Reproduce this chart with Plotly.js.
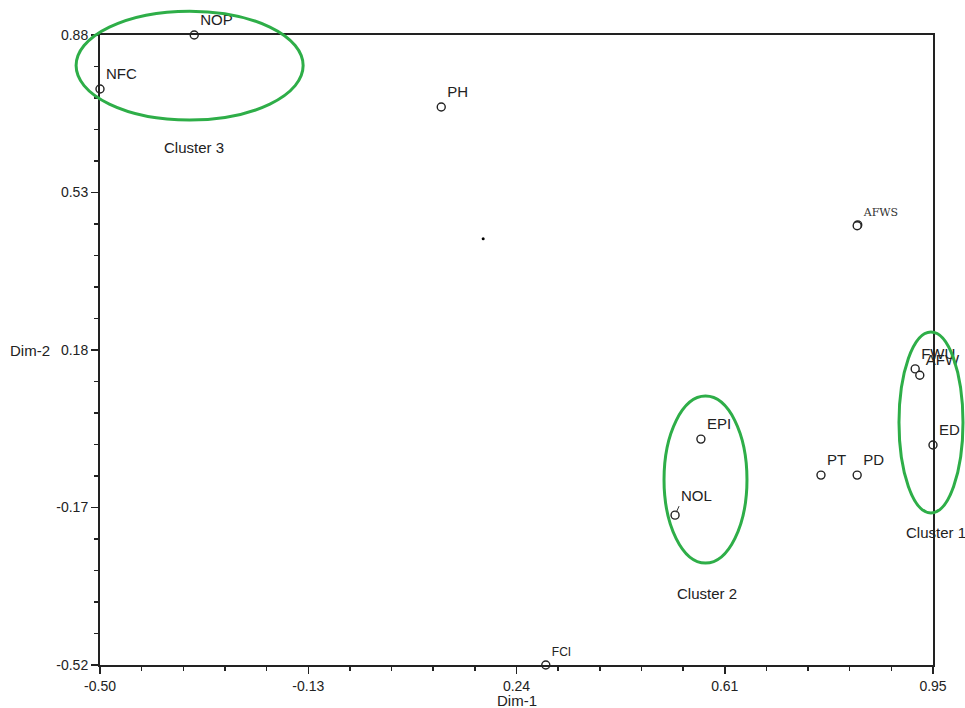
<!DOCTYPE html>
<html>
<head>
<meta charset="utf-8">
<script src="https://cdn.plot.ly/plotly-3.0.1.min.js"></script>
<style>html,body{margin:0;padding:0;background:#fff;}#chart{width:965px;height:708px;}</style>
</head>
<body>
<div id="chart"></div>
<script>
// Variables (labels) and their coordinates on the two dimensions
var labels = ["NOP", "NFC", "PH", "FWU", "AFW", "ED", "PT", "PD", "EPI", "NOL", "FCI"];
var dim1 = [-0.336, -0.500, 0.094, 0.919, 0.927, 0.950, 0.755, 0.818, 0.546, 0.501, 0.276];
var dim2 = [0.880, 0.760, 0.720, 0.138, 0.124, -0.031, -0.098, -0.098, -0.018, -0.187, -0.520];

// Overlapping label group in the upper right
var overlapLabel = ["AFWS"];
var overlapDim1 = [0.819, 0.818];
var overlapDim2 = [0.458, 0.456];

// Small centroid dot
var centroidDim1 = [0.167];
var centroidDim2 = [0.427];

// Tick labels
var xTickText = ["-0.50", "-0.13", "0.24", "0.61", "0.95"];
var yTickText = ["-0.52", "-0.17", "0.18", "0.53", "0.88"];

// Clusters: centre and half-widths in data units
var clusterNames = ["Cluster 1", "Cluster 2", "Cluster 3"];
var clusterCx = [0.9465, 0.554, -0.344];
var clusterCy = [0.019, -0.108, 0.812];
var clusterRx = [0.0557, 0.0722, 0.1976];
var clusterRy = [0.201, 0.1856, 0.121];
var clusterLabelX = [0.956, 0.556, -0.337];
var clusterLabelY = [-0.226, -0.360, 0.631];

var xMin = -0.50, xMax = 0.95, yMin = -0.52, yMax = 0.88;
var xTickVals = [];
for (var i = 0; i < 5; i++) xTickVals.push(xMin + (xMax - xMin) * i / 4);
var yTickVals = [];
for (var j = 0; j < 5; j++) yTickVals.push(yMin + (yMax - yMin) * j / 4);

var FONT = "Liberation Sans, Arial, sans-serif";
var green = "#2eae48";

var textSizes = labels.map(function (l) { return l === "FCI" ? 12 : 15; });
var mainText = labels.map(function (l) { return l === "NOL" ? "" : l; });

var traces = [
  {
    x: dim1, y: dim2, mode: "markers+text", type: "scatter",
    text: mainText, textposition: "top right",
    textfont: {family: FONT, size: textSizes, color: "#222"},
    marker: {symbol: "circle", size: 8, color: "#fff", line: {color: "#222", width: 1.4}},
    cliponaxis: false, hoverinfo: "text", showlegend: false
  },
  {
    x: overlapDim1, y: overlapDim2, mode: "markers+text", type: "scatter",
    text: [overlapLabel[0], ""], textposition: "top right",
    textfont: {family: "DejaVu Serif, serif", size: 11, color: "#333"},
    marker: {symbol: "circle", size: 8, color: "#fff", line: {color: "#222", width: 1.4}},
    cliponaxis: false, showlegend: false
  },
  {
    x: centroidDim1, y: centroidDim2, mode: "markers", type: "scatter",
    marker: {symbol: "circle", size: 3, color: "#000"},
    showlegend: false
  }
];

function px(x) { return (x - xMin) / (xMax - xMin); }
function py(y) { return (y - yMin) / (yMax - yMin); }

var shapes = [];
for (var k = 0; k < clusterNames.length; k++) {
  shapes.push({
    type: "circle", xref: "paper", yref: "paper",
    x0: px(clusterCx[k] - clusterRx[k]), x1: px(clusterCx[k] + clusterRx[k]),
    y0: py(clusterCy[k] - clusterRy[k]), y1: py(clusterCy[k] + clusterRy[k]),
    line: {color: green, width: 3}
  });
}

var annotations = [];
for (var m = 0; m < clusterNames.length; m++) {
  annotations.push({
    x: px(clusterLabelX[m]), y: py(clusterLabelY[m]), xref: "paper", yref: "paper",
    text: clusterNames[m], showarrow: false, xanchor: "center", yanchor: "middle",
    font: {family: FONT, size: 15, color: "#222"}
  });
}
var nolIdx = labels.indexOf("NOL");
annotations.push({
  x: dim1[nolIdx], y: dim2[nolIdx], xref: "x", yref: "y",
  text: "NOL", showarrow: true, arrowhead: 0, arrowwidth: 1, arrowcolor: "#333",
  ax: 4, ay: -9, xanchor: "left", yanchor: "bottom", standoff: 3,
  font: {family: FONT, size: 15, color: "#222"}
});
annotations.push({
  x: -0.084, y: 0.5, xref: "paper", yref: "paper", text: "Dim-2",
  showarrow: false, xanchor: "center", yanchor: "middle",
  font: {family: FONT, size: 15, color: "#222"}
});
annotations.push({
  x: 0.5, y: -0.056, xref: "paper", yref: "paper", text: "Dim-1",
  showarrow: false, xanchor: "center", yanchor: "middle",
  font: {family: FONT, size: 15, color: "#222"}
});

var layout = {
  width: 965, height: 708,
  margin: {l: 100, r: 32, t: 35, b: 43},
  paper_bgcolor: "#fff", plot_bgcolor: "#fff",
  showlegend: false,
  xaxis: {
    range: [xMin, xMax], tickmode: "array", tickvals: xTickVals, ticktext: xTickText,
    showgrid: false, zeroline: false, showline: true, mirror: true,
    linecolor: "#222", linewidth: 2, ticks: "outside", ticklen: 7, tickwidth: 1.5, tickcolor: "#222",
    tickfont: {family: FONT, size: 14, color: "#222"},
    minor: {tickmode: "linear", tick0: xMin, dtick: (xMax - xMin) / 20, ticks: "outside", ticklen: 4, tickwidth: 1.5, tickcolor: "#222", showgrid: false}
  },
  yaxis: {
    range: [yMin, yMax], tickmode: "array", tickvals: yTickVals, ticktext: yTickText,
    showgrid: false, zeroline: false, showline: true, mirror: true,
    linecolor: "#222", linewidth: 2, ticks: "outside", ticklen: 7, tickwidth: 1.5, tickcolor: "#222",
    tickfont: {family: FONT, size: 14, color: "#222"},
    minor: {tickmode: "linear", tick0: yMin, dtick: (yMax - yMin) / 20, ticks: "outside", ticklen: 4, tickwidth: 1.5, tickcolor: "#222", showgrid: false}
  },
  shapes: shapes,
  annotations: annotations
};

Plotly.newPlot("chart", traces, layout, {displayModeBar: false, staticPlot: true});
</script>
</body>
</html>
